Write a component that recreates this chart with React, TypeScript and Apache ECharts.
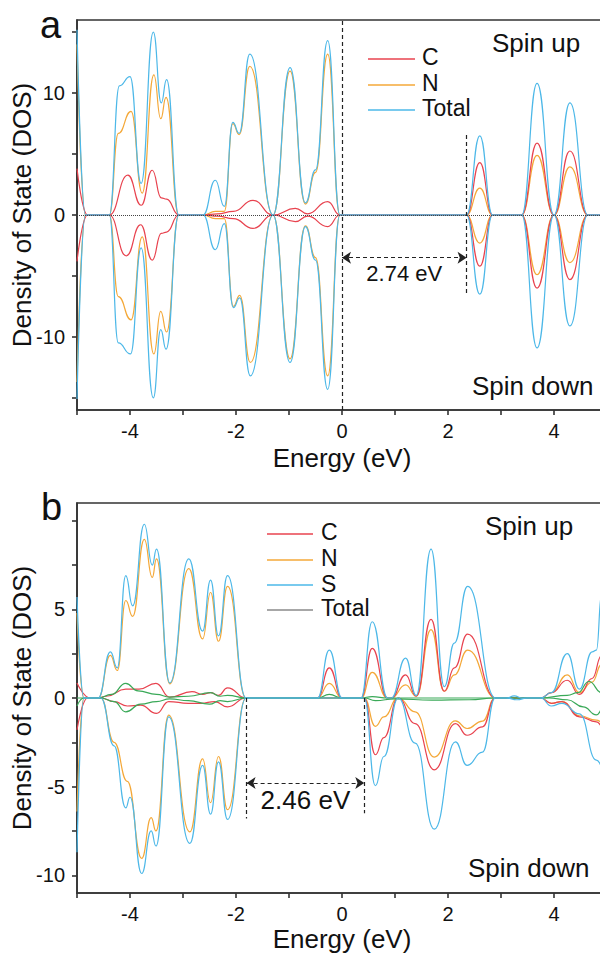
import React, { useEffect, useRef } from "react";
import * as echarts from "echarts";

const FONT = "'Liberation Sans', Arial, Helvetica, sans-serif";
const RED = "#e8434f";
const ORANGE = "#f4a838";
const BLUE = "#4db8e8";
const GREEN = "#3aa958";
const GRAY = "#8a8a8a";
const INK = "#111";

// ---------- Panel a (C, N, Total) : [energy eV, DOS] ----------
const aTotalUp = [[-5,15.2],[-4.84,0],[-4.39,0],[-4.2,10.6],[-4.0,11.35],[-3.79,2.6],[-3.56,15.0],[-3.41,9.2],[-3.31,11.1],[-3.08,0],[-2.62,0],[-2.39,2.85],[-2.22,0.7],[-2.06,7.6],[-1.94,6.7],[-1.74,13.2],[-1.3,0],[-0.98,12.1],[-0.69,1.0],[-0.5,3.7],[-0.27,14.3],[-0.04,0],[2.35,0],[2.6,6.5],[2.84,0],[3.39,0],[3.68,10.8],[4.0,0],[4.3,9.2],[4.64,0],[5,0]];
const aNUp = [[-5,14.0],[-4.84,0],[-4.39,0],[-4.22,6.7],[-3.98,8.5],[-3.77,1.8],[-3.55,11.5],[-3.42,7.9],[-3.32,9.65],[-3.08,0],[-2.62,0],[-2.39,0.3],[-2.22,0.3],[-2.06,7.5],[-1.94,6.6],[-1.74,12.2],[-1.3,0],[-0.98,11.8],[-0.69,0.9],[-0.5,3.5],[-0.27,13.2],[-0.04,0],[2.35,0],[2.6,2.2],[2.84,0],[3.39,0],[3.68,4.9],[4.0,0],[4.3,3.95],[4.64,0],[5,0]];
const aCUp = [[-5,3.8],[-4.8,0],[-4.39,0],[-4.04,3.27],[-3.79,0.8],[-3.58,3.67],[-3.41,1.4],[-3.31,1.3],[-3.08,0],[-2.6,0],[-2.35,0.1],[-2.05,0.3],[-1.68,1.2],[-1.3,0],[-0.88,0.55],[-0.65,0.1],[-0.27,1.1],[-0.04,0],[2.35,0],[2.6,4.3],[2.84,0],[3.39,0],[3.68,5.9],[4.0,0],[4.3,5.25],[4.64,0],[5,0]];
const aTotalDown = [[-5,-15.1],[-4.84,0],[-4.39,0],[-4.22,-10.5],[-3.99,-11.4],[-3.79,-2.7],[-3.56,-15.0],[-3.42,-9.4],[-3.32,-11.0],[-3.08,0],[-2.62,0],[-2.39,-2.85],[-2.22,-0.7],[-2.05,-7.6],[-1.93,-6.8],[-1.73,-13.2],[-1.3,0],[-0.98,-12.1],[-0.69,-0.95],[-0.5,-3.7],[-0.27,-14.3],[-0.04,0],[2.35,0],[2.6,-6.5],[2.84,0],[3.39,0],[3.68,-10.9],[4.0,0],[4.3,-9.1],[4.64,0],[5,0]];
const aNDown = [[-5,-13.7],[-4.84,0],[-4.39,0],[-4.22,-6.7],[-3.98,-8.6],[-3.77,-1.8],[-3.55,-11.4],[-3.42,-7.9],[-3.31,-9.6],[-3.08,0],[-2.62,0],[-2.39,-0.3],[-2.22,-0.3],[-2.05,-7.5],[-1.93,-6.6],[-1.73,-12.1],[-1.3,0],[-0.98,-11.8],[-0.69,-0.9],[-0.5,-3.5],[-0.27,-13.2],[-0.04,0],[2.35,0],[2.6,-2.3],[2.84,0],[3.39,0],[3.68,-4.9],[4.0,0],[4.3,-3.9],[4.64,0],[5,0]];
const aCDown = [[-5,-3.8],[-4.8,0],[-4.39,0],[-4.07,-3.35],[-3.8,-0.8],[-3.58,-3.7],[-3.41,-1.5],[-3.31,-1.4],[-3.08,0],[-2.6,0],[-2.35,-0.1],[-2.05,-0.3],[-1.68,-1.1],[-1.3,0],[-0.88,-0.55],[-0.65,-0.1],[-0.27,-0.95],[-0.04,0],[2.35,0],[2.6,-4.2],[2.84,0],[3.39,0],[3.68,-6.0],[4.0,0],[4.3,-5.3],[4.64,0],[5,0]];

// ---------- Panel b (C, N, S, Total) ----------
const bBlueUp = [[-5,5.7],[-4.87,0],[-4.6,0],[-4.37,2.6],[-4.24,1.7],[-4.08,6.9],[-3.95,5.2],[-3.73,9.8],[-3.58,7.5],[-3.5,8.4],[-3.25,0.85],[-2.89,7.85],[-2.63,3.77],[-2.48,6.65],[-2.33,3.5],[-2.16,6.9],[-1.81,0],[-0.46,0],[-0.24,2.7],[0.0,0],[0.36,0],[0.57,4.3],[0.86,0],[0.93,0],[1.2,2.25],[1.4,0.15],[1.68,8.4],[1.93,0.64],[2.12,3.1],[2.37,6.3],[2.9,0],[3.1,0],[3.25,0.12],[3.4,0],[3.75,0],[3.95,0.3],[4.25,2.5],[4.48,0.5],[4.72,2.6],[4.8,2.7],[4.9,5.9],[5,8.0]];
const bOrangeUp = [[-5,4.8],[-4.87,0],[-4.6,0],[-4.37,2.4],[-4.24,1.55],[-4.08,5.5],[-3.95,4.6],[-3.73,8.95],[-3.58,6.8],[-3.5,7.85],[-3.25,0.8],[-2.89,7.3],[-2.63,3.33],[-2.48,5.95],[-2.33,3.2],[-2.16,6.3],[-1.81,0],[-0.46,0],[-0.24,0.83],[0.0,0],[0.36,0],[0.57,1.45],[0.86,0],[0.93,0],[1.2,0.74],[1.4,0.1],[1.68,3.86],[1.93,0.38],[2.12,1.3],[2.37,2.7],[2.9,0],[3.75,0],[3.95,0.3],[4.25,1.3],[4.48,0.3],[4.72,0.9],[4.9,1.9],[5,2.4]];
const bRedUp = [[-5,0.85],[-4.75,0],[-4.6,0],[-4.45,0.1],[-4.08,0.5],[-3.83,0.5],[-3.51,0.83],[-3.25,0.05],[-2.83,0.36],[-2.63,0.2],[-2.48,0.3],[-2.33,0.15],[-2.16,0.57],[-1.81,0],[-0.46,0],[-0.24,1.7],[0.0,0],[0.36,0],[0.57,2.8],[0.86,0],[0.93,0],[1.2,1.3],[1.4,0.1],[1.68,4.43],[1.93,0.38],[2.12,1.7],[2.37,3.6],[2.9,0],[3.75,0],[3.95,0.3],[4.25,1.0],[4.48,0.2],[4.72,1.1],[4.9,2.4],[5,2.8]];
const bGreenUp = [[-5,0],[-4.87,0],[-4.6,0],[-4.35,0.2],[-4.08,0.83],[-3.85,0.4],[-3.5,0.2],[-3.25,0.05],[-2.9,0.1],[-2.48,0.3],[-2.3,0.1],[-2.16,0.15],[-1.81,0],[-0.46,0],[-0.24,0.2],[0.0,0],[0.36,0],[0.57,0.08],[0.86,0],[3.75,0],[4.25,0.15],[4.45,0.3],[4.66,0.93],[4.9,0.3],[5,0.2]];
const bBlueDown = [[-5,-8.7],[-4.87,0],[-4.55,0],[-4.3,-2.7],[-4.08,-6.2],[-4.0,-5.6],[-3.78,-9.9],[-3.6,-7.5],[-3.51,-8.35],[-3.27,-1.06],[-2.87,-8.2],[-2.63,-3.8],[-2.48,-6.55],[-2.33,-3.6],[-2.16,-6.85],[-1.81,0],[0.42,0],[0.63,-4.95],[0.79,-3.3],[1.06,0],[1.38,-2.54],[1.74,-7.4],[2.14,-2.48],[2.36,-3.8],[2.65,-3.05],[2.89,0],[3.1,0],[3.3,-0.1],[3.5,0],[3.75,0],[3.95,-0.45],[4.15,-0.3],[4.48,-0.9],[4.8,-3.5],[4.93,-3.9],[5,-4.0]];
const bOrangeDown = [[-5,-6.4],[-4.87,0],[-4.55,0],[-4.3,-2.5],[-4.05,-4.7],[-3.78,-9.05],[-3.6,-6.75],[-3.51,-7.5],[-3.27,-0.97],[-2.87,-7.55],[-2.63,-3.43],[-2.48,-5.9],[-2.33,-3.3],[-2.16,-6.3],[-1.81,0],[0.42,0],[0.63,-1.6],[0.79,-1.06],[1.06,0],[1.38,-0.78],[1.74,-3.33],[2.14,-1.29],[2.36,-1.72],[2.65,-1.3],[2.89,0],[3.75,0],[3.95,-0.3],[4.15,-0.2],[4.48,-1.0],[4.8,-1.25],[4.93,-1.4],[5,-1.5]];
const bRedDown = [[-5,-1.8],[-4.8,0],[-4.55,0],[-4.3,-0.2],[-4.05,-0.45],[-3.8,-0.4],[-3.5,-0.87],[-3.27,-0.2],[-2.9,-0.3],[-2.66,-0.3],[-2.4,-0.2],[-2.16,-0.5],[-1.81,0],[0.42,0],[0.63,-3.2],[0.79,-2.23],[1.06,0],[1.38,-1.44],[1.74,-4.05],[2.14,-1.44],[2.36,-2.1],[2.65,-1.63],[2.89,0],[3.75,0],[3.95,-0.3],[4.15,-0.2],[4.48,-1.06],[4.8,-1.35],[4.93,-1.63],[5,-1.7]];
const bGreenDown = [[-5,-0.45],[-4.87,0],[-4.55,0],[-4.3,-0.2],[-4.08,-0.78],[-3.8,-0.35],[-3.5,-0.2],[-3.25,-0.05],[-2.9,-0.15],[-2.5,-0.35],[-2.3,-0.15],[-2.16,-0.2],[-1.81,0],[0.42,0],[0.63,-0.15],[1.0,-0.05],[1.7,-0.12],[2.4,-0.1],[2.89,0],[3.9,0],[4.25,-0.1],[4.55,-0.5],[4.8,-0.95],[4.93,-0.6],[5,-0.5]];

// annotations
const gapA = { from: 0, to: 2.35, arrowY: -3.5, top: 6.56, bottom: -6.65, label: "2.74 eV" };
const gapB = { from: -1.8, to: 0.42, arrowY: -4.8, bottomFrom: -6.8, bottomTo: -6.5, label: "2.46 eV" };
const xLabels = [-4, -2, 0, 2, 4];
const aYTicks = [-15, -10, -5, 0, 5, 10, 15];
const aYLabels = [-10, 0, 10];
const bYTicks = [-10, -7.5, -5, -2.5, 0, 2.5, 5, 7.5, 10];
const bYLabels = [-10, -5, 0, 5];
const legendA = [["C", RED], ["N", ORANGE], ["Total", BLUE]];
const legendB = [["C", RED], ["N", ORANGE], ["S", BLUE], ["Total", GRAY]];

const axisLineStyle = { color: "#333", width: 1.6 };

function xAxisFor(gridIndex: number, nameGap: number) {
  return {
    gridIndex, type: "value", min: -5, max: 5, interval: 1,
    axisLine: { show: true, onZero: false, lineStyle: axisLineStyle },
    axisTick: { show: true, inside: false, length: 5, lineStyle: axisLineStyle },
    axisLabel: {
      formatter: (v: number) => (xLabels.includes(v) ? String(v) : ""),
      fontSize: 20, color: INK, fontFamily: FONT, margin: 11,
    },
    splitLine: { show: false },
    name: "Energy (eV)", nameLocation: "middle", nameGap,
    nameTextStyle: { fontSize: 26, color: INK, fontFamily: FONT },
  };
}
function yAxisFor(gridIndex: number, min: number, max: number, ticks: number[], labels: number[]) {
  return {
    gridIndex, type: "value", min, max,
    axisLine: { show: true, onZero: false, lineStyle: axisLineStyle },
    axisTick: { show: true, inside: false, length: 5, customValues: ticks, lineStyle: axisLineStyle },
    axisLabel: { customValues: labels, fontSize: 20, color: INK, fontFamily: FONT, margin: 12 },
    splitLine: { show: false },
    name: "Density of State (DOS)", nameLocation: "middle", nameGap: 42, nameMoveOverlap: false,
    nameTextStyle: { fontSize: 26, color: INK, fontFamily: FONT },
  };
}
function line(name: string, data: number[][], color: string, idx: number, extra: any = {}) {
  return {
    type: "line", name, data, xAxisIndex: idx, yAxisIndex: idx,
    showSymbol: false, symbol: "none", smooth: 0.5, smoothMonotone: "x",
    lineStyle: { color, width: 1.2 }, itemStyle: { color }, silent: true, z: 2,
    ...extra,
  };
}
const dash = { type: [4, 3], color: "#222", width: 1.2 };

function legendGraphics(items: string[][], x1: number, x2: number, tx: number, lineYs: number[], textYs: number[]) {
  const out: any[] = [];
  items.forEach(([label, color], i) => {
    out.push({ type: "line", shape: { x1, y1: lineYs[i], x2, y2: lineYs[i] }, style: { stroke: color, lineWidth: 1.5 } });
    out.push({ type: "text", x: tx, y: textYs[i], style: { text: label, fontSize: 23, lineHeight: 22, fontFamily: FONT, fill: INK, align: "left", verticalAlign: "middle" } });
  });
  return out;
}
function txt(text: string, x: number, y: number, size: number) {
  return { type: "text", x, y, style: { text, fontSize: size, fontFamily: FONT, fill: INK, align: "left", verticalAlign: "middle" } };
}

export default function App() {
  const ref = useRef<HTMLDivElement>(null);
  useEffect(() => {
    const chart = echarts.init(ref.current!, null, { renderer: "svg" });
    const markA = {
      silent: true, symbol: ["none", "none"], label: { show: false }, animation: false,
      data: [
        { yAxis: 0, lineStyle: { type: "dotted", color: "#444", width: 1 } },
        { xAxis: gapA.from, lineStyle: dash },
        [{ coord: [gapA.to, gapA.top], lineStyle: dash }, { coord: [gapA.to, gapA.bottom] }],
        [
          {
            coord: [gapA.from, gapA.arrowY], symbol: "arrow", symbolSize: 9, lineStyle: dash,
            label: { show: true, formatter: gapA.label, position: "insideMiddleBottom", distance: 5, fontSize: 22, color: INK, fontFamily: FONT },
          },
          { coord: [gapA.to, gapA.arrowY], symbol: "arrow", symbolSize: 9 },
        ],
      ],
    };
    const markB = {
      silent: true, symbol: ["none", "none"], label: { show: false }, animation: false,
      data: [
        [{ coord: [gapB.from, 0], lineStyle: dash }, { coord: [gapB.from, gapB.bottomFrom] }],
        [{ coord: [gapB.to, 0], lineStyle: dash }, { coord: [gapB.to, gapB.bottomTo] }],
        [
          {
            coord: [gapB.from, gapB.arrowY], symbol: "arrow", symbolSize: 9, lineStyle: dash,
            label: { show: true, formatter: gapB.label, position: "insideMiddleBottom", distance: 4, fontSize: 26, color: INK, fontFamily: FONT },
          },
          { coord: [gapB.to, gapB.arrowY], symbol: "arrow", symbolSize: 9 },
        ],
      ],
    };
    const option: any = {
      animation: false,
      backgroundColor: "#fff",
      grid: [
        { left: 77, top: 20, width: 530, height: 390, outerBoundsMode: "none", containLabel: false, show: true, borderColor: "#333", borderWidth: 1.6, backgroundColor: "transparent" },
        { left: 77, top: 503, width: 530, height: 390, outerBoundsMode: "none", containLabel: false, show: true, borderColor: "#333", borderWidth: 1.6, backgroundColor: "transparent" },
      ],
      xAxis: [xAxisFor(0, 35), xAxisFor(1, 33)],
      yAxis: [yAxisFor(0, -16, 16, aYTicks, aYLabels), yAxisFor(1, -11, 11, bYTicks, bYLabels)],
      series: [
        line("N up", aNUp, ORANGE, 0),
        line("N down", aNDown, ORANGE, 0),
        line("C up", aCUp, RED, 0),
        line("C down", aCDown, RED, 0),
        line("Total up", aTotalUp, BLUE, 0),
        line("Total down", aTotalDown, BLUE, 0, { markLine: markA }),
        line("N up b", bOrangeUp, ORANGE, 1),
        line("N down b", bOrangeDown, ORANGE, 1),
        line("C up b", bRedUp, RED, 1),
        line("C down b", bRedDown, RED, 1),
        line("G up b", bGreenUp, GREEN, 1),
        line("G down b", bGreenDown, GREEN, 1),
        line("S up b", bBlueUp, BLUE, 1),
        line("S down b", bBlueDown, BLUE, 1, { markLine: markB }),
      ],
      graphic: [
        txt("a", 40, 25, 38),
        txt("b", 41, 507, 38),
        txt("Spin up", 492, 43, 26),
        txt("Spin down", 472, 386, 26),
        txt("Spin up", 485, 526, 26),
        txt("Spin down", 468, 868, 26),
        ...legendGraphics(legendA, 368, 415, 422, [59, 85, 110], [57, 83, 108]),
        ...legendGraphics(legendB, 267, 313, 321, [534, 560, 585, 610], [532, 557.5, 584, 608]),
      ],
    };
    chart.setOption(option);
    return () => chart.dispose();
  }, []);
  return (
    <div
      ref={ref}
      style={{ position: "fixed", left: 0, top: 0, width: 600, height: 956, background: "#fff" }}
    />
  );
}
